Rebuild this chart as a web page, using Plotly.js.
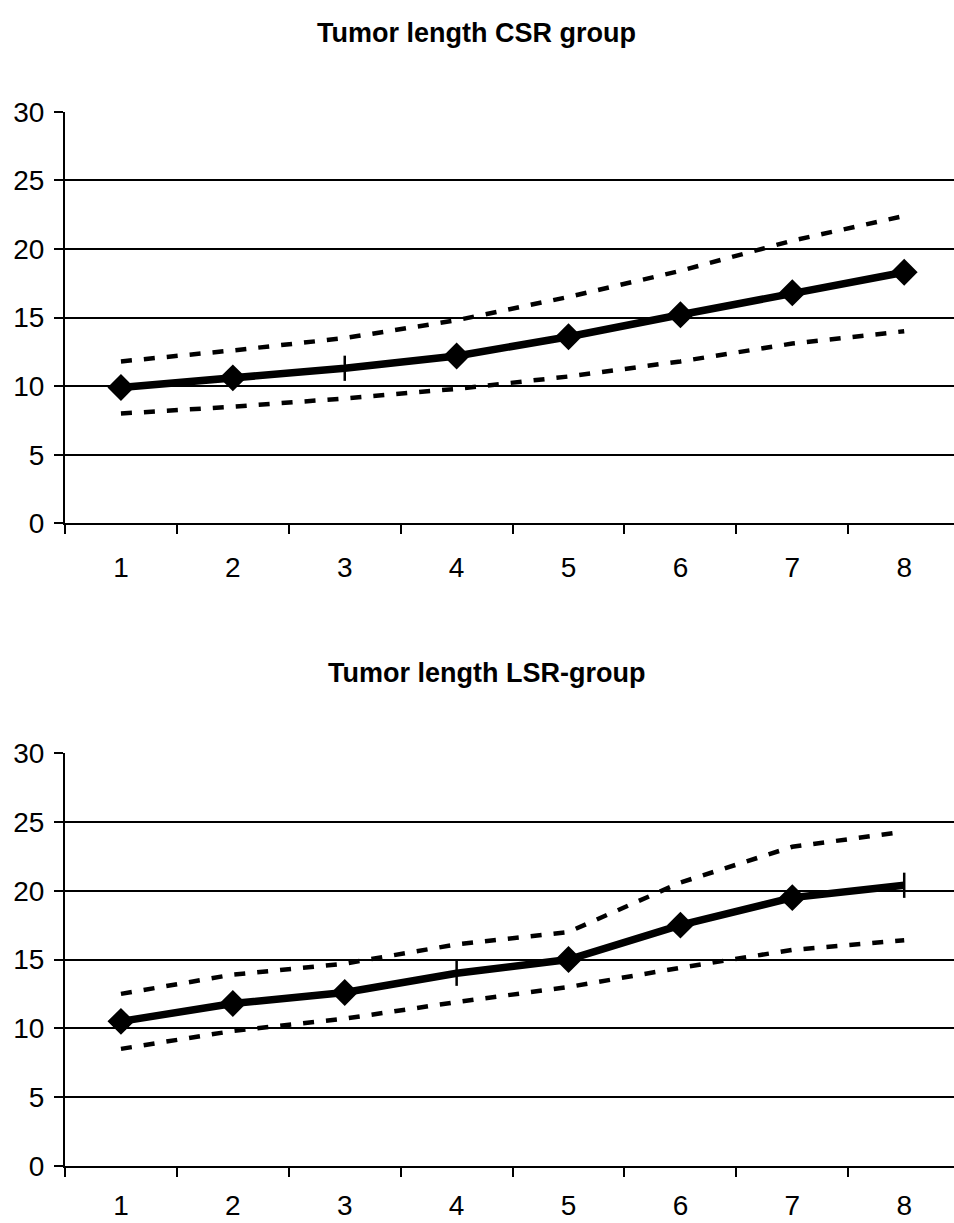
<!DOCTYPE html>
<html>
<head>
<meta charset="utf-8">
<script src="https://cdn.plot.ly/plotly-3.0.1.min.js"></script>
<style>html,body{margin:0;padding:0;overflow:hidden;background:#fff;}#chart{width:954px;height:1223px;}</style>
</head>
<body>
<div id="chart"></div>
<script>
const categories = ['1','2','3','4','5','6','7','8'];
const csrMean  = [9.9, 10.6, 11.3, 12.2, 13.6, 15.2, 16.8, 18.3];
const csrUpper = [11.8, 12.6, 13.5, 14.8, 16.5, 18.4, 20.6, 22.4];
const csrLower = [8.0, 8.5, 9.1, 9.8, 10.7, 11.8, 13.1, 14.0];
const lsrMean  = [10.5, 11.8, 12.6, 14.0, 15.0, 17.5, 19.5, 20.4];
const lsrUpper = [12.5, 13.9, 14.7, 16.1, 17.0, 20.6, 23.2, 24.3];
const lsrLower = [8.5, 9.8, 10.7, 11.9, 13.0, 14.4, 15.7, 16.4];
const titles = ['Tumor length CSR group', 'Tumor length LSR-group'];

const FONT = 'Liberation Sans, Arial, sans-serif';
function dashed(y, xa, ya) {
  return {x: categories, y: y, xaxis: xa, yaxis: ya, mode: 'lines', type: 'scatter',
    line: {color: '#000', width: 4.5, dash: '11px,12px'}, hoverinfo: 'skip'};
}
function mean(y, xa, ya, symbols) {
  return {x: categories, y: y, xaxis: xa, yaxis: ya, mode: 'lines+markers', type: 'scatter',
    line: {color: '#000', width: 7.5},
    marker: {symbol: symbols, size: 18, color: '#000', line: {color: '#000', width: 2.5}}};
}
const symTop = ['diamond','diamond','line-ns','diamond','diamond','diamond','diamond','diamond'];
const symBot = ['diamond','diamond','diamond','line-ns','diamond','diamond','diamond','line-ns'];

const data = [
  dashed(csrUpper, 'x', 'y'), dashed(csrLower, 'x', 'y'), mean(csrMean, 'x', 'y', symTop),
  dashed(lsrUpper, 'x2', 'y2'), dashed(lsrLower, 'x2', 'y2'), mean(lsrMean, 'x2', 'y2', symBot)
];

function xax(anchor, standoff) {
  return {anchor: anchor, domain: [65/954, 1], type: 'category', range: [-0.5, 7.445],
    tickson: 'boundaries', ticks: 'outside', ticklen: 9, tickwidth: 2, tickcolor: '#000',
    showline: true, linecolor: '#000', linewidth: 2, showgrid: false, zeroline: false,
    tickfont: {family: FONT, size: 28, color: '#000'}, ticklabelstandoff: standoff, fixedrange: true};
}
function yax(anchor, dom) {
  return {anchor: anchor, domain: dom, range: [0, 30], dtick: 5, tick0: 0,
    ticks: 'outside', ticklen: 9, tickwidth: 2, tickcolor: '#000',
    showline: true, linecolor: '#000', linewidth: 2, showgrid: true, gridcolor: '#000', gridwidth: 2,
    zeroline: false, tickfont: {family: FONT, size: 28, color: '#000'}, ticklabelstandoff: 4, fixedrange: true};
}

const H = 1223;
const layout = {
  width: 954, height: 1223, margin: {l: 0, r: 0, t: 0, b: 0},
  paper_bgcolor: '#fff', plot_bgcolor: '#fff', showlegend: false,
  xaxis: xax('y', 18), yaxis: yax('x', [(H-523.3)/H, (H-111.7)/H]),
  xaxis2: xax('y2', 14), yaxis2: yax('x2', [(H-1165.7)/H, (H-753.3)/H]),
  annotations: [
    {text: '<b>' + titles[0] + '</b>', xref: 'paper', yref: 'paper', x: 476/954, y: (H-33)/H,
     xanchor: 'center', yanchor: 'middle', showarrow: false, font: {family: FONT, size: 27, color: '#000'}},
    {text: '<b>' + titles[1] + '</b>', xref: 'paper', yref: 'paper', x: 487/954, y: (H-673)/H,
     xanchor: 'center', yanchor: 'middle', showarrow: false, font: {family: FONT, size: 27, color: '#000'}}
  ]
};
Plotly.newPlot('chart', data, layout, {staticPlot: true, displayModeBar: false});
</script>
</body>
</html>
